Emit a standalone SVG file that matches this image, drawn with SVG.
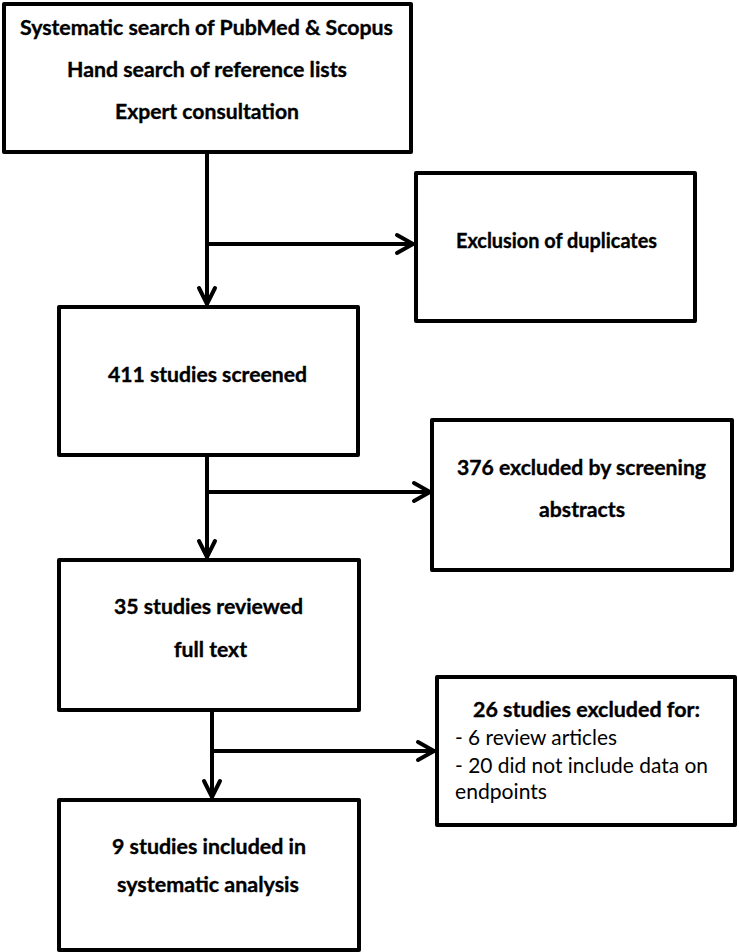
<svg xmlns="http://www.w3.org/2000/svg" width="739" height="952" viewBox="0 0 739 952">
<style>
.box{fill:#fff;stroke:#000;stroke-width:4;stroke-linejoin:round}
.t{font-family:Lato,"Liberation Sans","DejaVu Sans",sans-serif;font-size:20.5px;font-weight:bold;fill:#000;stroke:#000;stroke-width:0.35;text-anchor:middle}
.n{font-family:Lato,"Liberation Sans","DejaVu Sans",sans-serif;font-size:20.5px;font-weight:normal;fill:#000}
.ln{fill:none;stroke:#000;stroke-width:4;stroke-linecap:round;stroke-linejoin:miter}
</style>
<rect width="739" height="952" fill="#fff"/>
<g id="connectors">
<path class="ln" d="M207 153 V303 M207 244 H412"/>
<path class="ln" d="M199 288 L207 304 L215 288"/>
<path class="ln" d="M397 235 L413 244 L397 253"/>
<path class="ln" d="M207 456 V556 M207 492 H428"/>
<path class="ln" d="M199 541 L207 557 L215 541"/>
<path class="ln" d="M414 483 L430 492 L414 501"/>
<path class="ln" d="M212 710 V796 M212 751 H433"/>
<path class="ln" d="M204 781 L212 797 L220 781"/>
<path class="ln" d="M418 742 L434 751 L418 760"/>
</g>
<g id="search">
<rect class="box" x="4" y="4" width="407" height="148"/>
<text class="t" x="206.5" y="35" textLength="373" lengthAdjust="spacingAndGlyphs">Systematic search of PubMed &amp; Scopus</text>
<text class="t" x="207" y="77" textLength="280" lengthAdjust="spacingAndGlyphs">Hand search of reference lists</text>
<text class="t" x="207" y="119" textLength="184" lengthAdjust="spacingAndGlyphs">Expert consultation</text>
</g>
<g id="duplicates">
<rect class="box" x="416" y="173" width="279" height="148"/>
<text class="t" x="556.5" y="248" textLength="201" lengthAdjust="spacingAndGlyphs">Exclusion of duplicates</text>
</g>
<g id="screened">
<rect class="box" x="59" y="307" width="299" height="148"/>
<text class="t" x="207.5" y="382" textLength="199" lengthAdjust="spacingAndGlyphs">411 studies screened</text>
</g>
<g id="excluded-abstracts">
<rect class="box" x="432" y="420" width="300" height="150"/>
<text class="t" x="581.5" y="475" textLength="249" lengthAdjust="spacingAndGlyphs">376 excluded by screening</text>
<text class="t" x="582" y="517" textLength="86" lengthAdjust="spacingAndGlyphs">abstracts</text>
</g>
<g id="fulltext">
<rect class="box" x="59" y="560" width="300" height="150"/>
<text class="t" x="208.5" y="614" textLength="189" lengthAdjust="spacingAndGlyphs">35 studies reviewed</text>
<text class="t" x="210.5" y="657" textLength="73" lengthAdjust="spacingAndGlyphs">full text</text>
</g>
<g id="excluded-fulltext">
<rect class="box" x="437" y="677" width="298" height="148"/>
<text class="t" x="586.5" y="717" textLength="227" lengthAdjust="spacingAndGlyphs">26 studies excluded for:</text>
<text class="n" x="455" y="745" textLength="162" lengthAdjust="spacingAndGlyphs">- 6 review articles</text>
<text class="n" x="455" y="773" textLength="253" lengthAdjust="spacingAndGlyphs">- 20 did not include data on</text>
<text class="n" x="455" y="799" textLength="92" lengthAdjust="spacingAndGlyphs">endpoints</text>
</g>
<g id="included">
<rect class="box" x="59" y="800" width="300" height="150"/>
<text class="t" x="209" y="854" textLength="194" lengthAdjust="spacingAndGlyphs">9 studies included in</text>
<text class="t" x="208" y="892" textLength="182" lengthAdjust="spacingAndGlyphs">systematic analysis</text>
</g>
</svg>
